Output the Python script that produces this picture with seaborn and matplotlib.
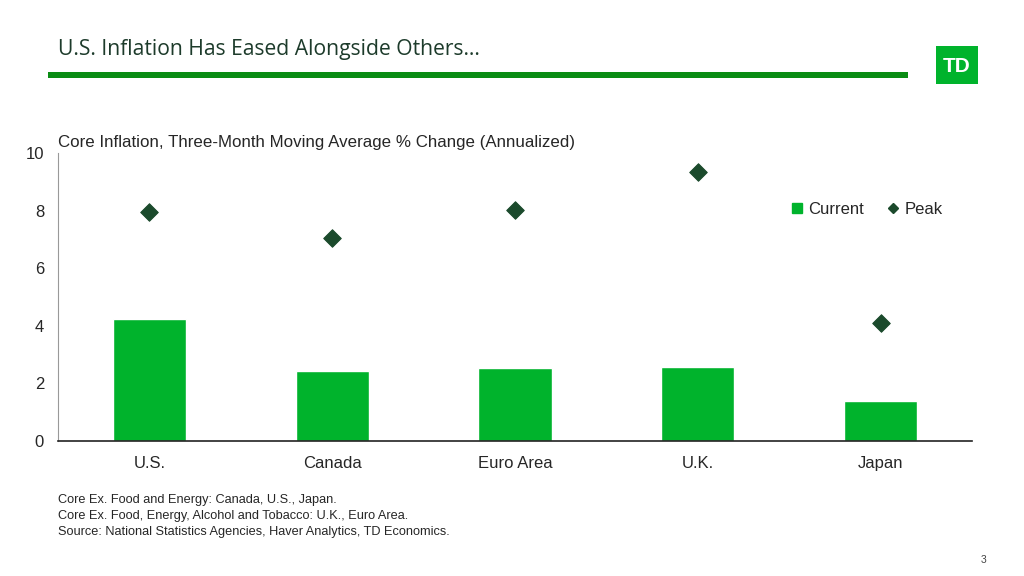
import matplotlib
matplotlib.use("Agg")
import matplotlib.pyplot as plt
import seaborn as sns
import pandas as pd
from matplotlib.patches import Rectangle
from matplotlib.lines import Line2D

# === Data
countries = ["U.S.", "Canada", "Euro Area", "U.K.", "Japan"]
current = [4.24, 2.43, 2.53, 2.57, 1.39]
peak = [7.95, 7.05, 8.02, 9.34, 4.10]
y_ticks = [0, 2, 4, 6, 8, 10]

footnotes = [
    "Core Ex. Food and Energy: Canada, U.S., Japan.",
    "Core Ex. Food, Energy, Alcohol and Tobacco: U.K., Euro Area.",
    "Source: National Statistics Agencies, Haver Analytics, TD Economics.",
]

df = pd.DataFrame({"country": countries, "current": current, "peak": peak})

BAR_GREEN = "#00b32c"
DARK_GREEN = "#1b4a2c"

sns.set_style("white")
plt.rcParams["font.family"] = ["Liberation Sans", "DejaVu Sans"]

fig = plt.figure(figsize=(10.24, 5.76), dpi=100)
ax = fig.add_axes([58 / 1024, 1 - 441 / 576, (972 - 58) / 1024, (441 - 153) / 576])

# === Bars (current) and diamonds (peak)
sns.barplot(data=df, x="country", y="current", color=BAR_GREEN, width=0.4,
            saturation=1, ax=ax, zorder=2)
sns.scatterplot(data=df, x="country", y="peak", marker="D", s=80,
                color=DARK_GREEN, edgecolor=DARK_GREEN, ax=ax, zorder=3)

ax.set_xlim(-0.5, 4.5)
ax.set_ylim(0, 10)
ax.set_yticks(y_ticks)
ax.set_xlabel("")
ax.set_ylabel("")
ax.tick_params(axis="y", length=0, pad=10, labelsize=12)
ax.tick_params(axis="x", length=0, pad=11, labelsize=12)
for sp in ["top", "right"]:
    ax.spines[sp].set_visible(False)
ax.spines["left"].set_color("#999999")
ax.spines["left"].set_linewidth(0.8)
ax.spines["bottom"].set_color("#222222")
ax.spines["bottom"].set_linewidth(1.2)

ax.set_title("Core Inflation, Three-Month Moving Average % Change (Annualized)",
             loc="left", fontsize=12.2, pad=4, x=0.0)

handles = [
    Line2D([], [], marker="s", color=BAR_GREEN, linestyle="None", markersize=7),
    Line2D([], [], marker="D", color=DARK_GREEN, linestyle="None", markersize=5),
]
ax.legend(handles, ["Current", "Peak"], loc="upper left", bbox_to_anchor=(0.781, 0.883),
          ncol=2, frameon=False, fontsize=12, handletextpad=0.1, columnspacing=1.1,
          handlelength=1.2)

# === Slide header
fig.text(58 / 1024, 1 - 49 / 576, "U.S. Inflation Has Eased Alongside Others\u2026",
         fontsize=15.2, color="#1d3b2b", va="center", family=["Open Sans", "DejaVu Sans"])
fig.add_artist(Rectangle((48 / 1024, 1 - 78 / 576), (908 - 48) / 1024, 6 / 576,
                         transform=fig.transFigure, color="#0a8c14", lw=0))
fig.add_artist(Rectangle((936 / 1024, 1 - 84 / 576), 42 / 1024, 38 / 576,
                         transform=fig.transFigure, color="#00b32c", lw=0))
fig.text(957 / 1024, 1 - 66 / 576, "TD", fontsize=15, fontweight="bold", color="white",
         ha="center", va="center")

# === Footnotes and page number
for i, line in enumerate(footnotes):
    fig.text(58 / 1024, 1 - (500 + 16 * i) / 576, line, fontsize=9.2, va="center")
fig.text(984 / 1024, 1 - 560 / 576, "3", fontsize=7.5, color="#444444",
         ha="center", va="center")

fig.savefig("out.png", dpi=100)
